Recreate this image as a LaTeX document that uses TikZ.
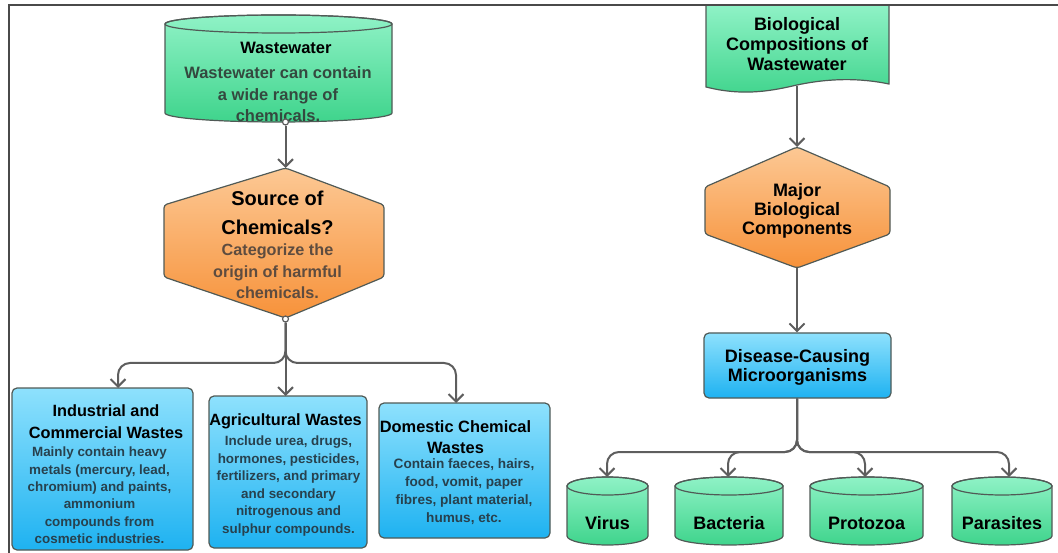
\documentclass[tikz,border=0pt]{standalone}
\usepackage{fontspec}
\setmainfont{Liberation Sans}
\usetikzlibrary{arrows.meta}
\definecolor{gtop}{HTML}{8FF2C6}
\definecolor{gbot}{HTML}{3FD48C}
\definecolor{otop}{HTML}{FCC894}
\definecolor{obot}{HTML}{F7923A}
\definecolor{btop}{HTML}{8EE1FD}
\definecolor{bbot}{HTML}{1EB2F1}
\definecolor{edgecol}{HTML}{505A56}
\definecolor{conncol}{HTML}{5E5E5E}
\definecolor{gtext}{HTML}{34493F}
\definecolor{otext}{HTML}{5E4C3F}
\definecolor{btext}{HTML}{27414E}
\definecolor{framecol}{HTML}{4A4A4A}
\newcommand\mkcyl[5]{% x1, x2, y top centre, y bottom centre, ry
  \path[greenshape] (#1,#3) -- (#1,#4)
     arc[start angle=180,end angle=0,x radius={(#2-#1)/2},y radius=#5]
     -- (#2,#3)
     arc[start angle=0,end angle=-180,x radius={(#2-#1)/2},y radius=#5] -- cycle;
  \draw[draw=edgecol,line width=1.2pt] ({(#1+#2)/2},#3) ellipse[x radius={(#2-#1)/2},y radius=#5];
}
\begin{document}
\begin{tikzpicture}[x=1pt,y=-1pt,
  conn/.style={draw=conncol,line width=2pt},
  arr/.style={conn,-{Straight Barb[length=7.5pt,width=15pt]}},
  greenshape/.style={draw=edgecol,line width=1.2pt,top color=gtop,bottom color=gbot},
  orangeshape/.style={draw=edgecol,line width=1.2pt,top color=otop,bottom color=obot,rounded corners=3pt},
  bluebox/.style={draw=edgecol,line width=1.2pt,top color=btop,bottom color=bbot,rounded corners=5pt,inner sep=0pt},
  dot/.style={circle,draw=conncol,fill=white,line width=1.2pt,inner sep=0pt,minimum size=6pt},
  txt/.style n args={3}{font=\bfseries\fontsize{#1}{#2}\selectfont,text=#3,align=center,inner sep=0pt}
]
\useasboundingbox (0,0) rectangle (1058,553);

% ---------- left column ----------
\mkcyl{165}{392}{24}{113}{9}
\node[txt={16.5}{21.5}{black}] (ww-h) at (286,48) {Wastewater};
\node[txt={16.5}{21.5}{gtext}] (ww-b) at (278,94.5) {Wastewater can contain\\a wide range of\\chemicals.};

\path[orangeshape] (285.5,168) -- (384,205) -- (384,277) -- (285.5,318) -- (164,277) -- (164,205) -- cycle;
\node[txt={20}{29}{black}] (src-h) at (277.5,212.5) {Source of\\Chemicals?};
\node[txt={16.2}{21.5}{otext}] (src-b) at (277.5,271.5) {Categorize the\\origin of harmful\\chemicals.};

\node[bluebox,minimum width=181pt,minimum height=162pt] (ind) at (102.5,469) {};
\node[txt={16.3}{22}{black}] (ind-h) at (106,422) {Industrial and\\Commercial Wastes};
\node[txt={13.4}{17.4}{btext}] (ind-b) at (99.5,495.5) {Mainly contain heavy\\metals (mercury, lead,\\chromium) and paints,\\ammonium\\compounds from\\cosmetic industries.};

\node[bluebox,minimum width=158pt,minimum height=152pt] (agr) at (288,472) {};
\node[txt={16.3}{22}{black}] (agr-h) at (285.5,421) {Agricultural Wastes};
\node[txt={13.4}{17.6}{btext}] (agr-b) at (288.5,486) {Include urea, drugs,\\hormones, pesticides,\\fertilizers, and primary\\and secondary\\nitrogenous and\\sulphur compounds.};

\node[bluebox,minimum width=171pt,minimum height=135pt] (dom) at (464.5,470.5) {};
\node[txt={16.4}{20.5}{black}] (dom-h) at (455.5,437) {Domestic Chemical\\Wastes};
\node[txt={13.6}{18}{btext}] (dom-b) at (464,492) {Contain faeces, hairs,\\food, vomit, paper\\fibres, plant material,\\humus, etc.};

\node[dot] (ww-dot) at (285.5,122) {};
\coordinate (src-top) at (285.5,168);
\draw[arr] (ww-dot) -- (src-top);
\node[dot] (src-dot) at (285.5,319) {};
\coordinate (j1) at (285.5,363);
\coordinate (ind-in) at (118,388);
\coordinate (agr-in) at (285.5,396);
\coordinate (dom-in) at (456,403);
\draw[arr,rounded corners=12pt] (src-dot) -- (j1) -- (j1 -| ind-in) -- (ind-in);
\draw[arr] (src-dot) -- (agr-in);
\draw[arr,rounded corners=12pt] (src-dot) -- (j1) -- (j1 -| dom-in) -- (dom-in);

% ---------- right column ----------
\path[greenshape] (706,5) -- (706,87) .. controls (745,97) and (775,90) .. (797,85)
      .. controls (830,78) and (860,78) .. (889,84) -- (889,5) -- cycle;
\node[txt={18}{20}{black}] (bio) at (797,44) {Biological\\Compositions of\\Wastewater};

\path[orangeshape] (797,147) -- (890,187) -- (890,234) -- (797,268) -- (705,234) -- (705,187) -- cycle;
\node[txt={18}{19}{black}] (maj) at (797,211) {Major\\Biological\\Components};

\node[bluebox,minimum width=187pt,minimum height=65pt] (dis) at (797.5,365.5) {};
\node[txt={18}{19}{black}] (dis-t) at (797.5,367.5) {Disease-Causing\\Microorganisms};

\mkcyl{567}{648}{486}{536}{9}
\mkcyl{675}{783}{486}{536}{9}
\mkcyl{810}{923}{486}{536}{9}
\mkcyl{952}{1052}{486}{536}{9}
\node[txt={18}{20}{black}] (vir) at (607.5,523) {Virus};
\node[txt={18}{20}{black}] (bac) at (729,523) {Bacteria};
\node[txt={18}{20}{black}] (pro) at (866.5,523) {Protozoa};
\node[txt={18}{20}{black}] (par) at (1002,523) {Parasites};

\coordinate (doc-bot) at (797,86);
\coordinate (maj-top) at (797,147);
\coordinate (maj-bot) at (797,268);
\draw[arr] (doc-bot) -- (maj-top);
\draw[arr] (maj-bot) -- (maj-bot |- dis.north);
\coordinate (j2) at (797,452);
\coordinate (vir-in) at (607,477);
\coordinate (bac-in) at (728,477);
\coordinate (pro-in) at (865,477);
\coordinate (par-in) at (1009,477);
\draw[arr,rounded corners=12pt] (maj-bot |- dis.south) -- (j2) -- (j2 -| vir-in) -- (vir-in);
\draw[arr,rounded corners=12pt] (maj-bot |- dis.south) -- (j2) -- (j2 -| bac-in) -- (bac-in);
\draw[arr,rounded corners=12pt] (maj-bot |- dis.south) -- (j2) -- (j2 -| pro-in) -- (pro-in);
\draw[arr,rounded corners=12pt] (maj-bot |- dis.south) -- (j2) -- (j2 -| par-in) -- (par-in);

% ---------- frame ----------
\draw[draw=framecol,line width=2.2pt] (9,553) -- (9,5) -- (1058,5);
\end{tikzpicture}
\end{document}
